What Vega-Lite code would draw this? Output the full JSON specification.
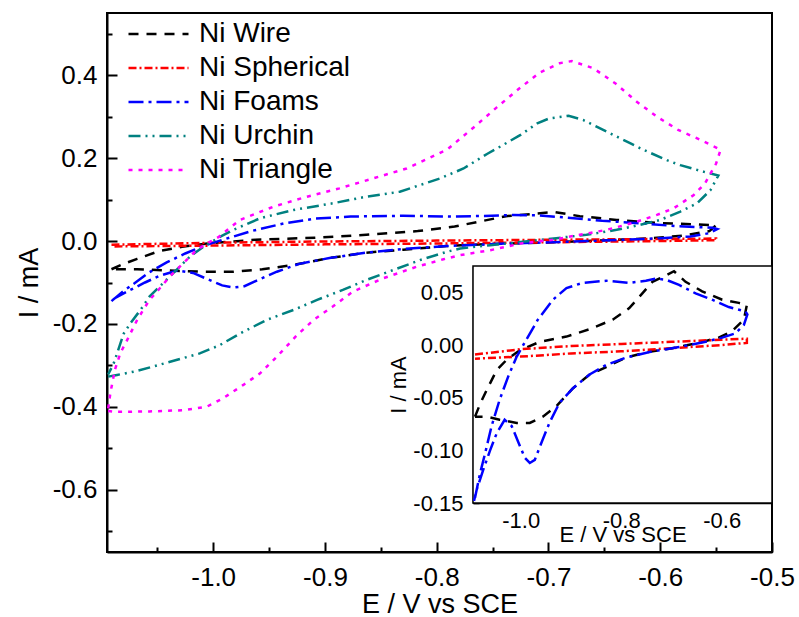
{
  "$schema": "https://vega.github.io/schema/vega-lite/v6.json",
  "width": 665,
  "height": 539,
  "autosize": "none",
  "padding": {"left": 107, "top": 13, "right": 27, "bottom": 65},
  "background": "white",
  "config": {
    "font": "Liberation Sans",
    "view": {"stroke": "black", "strokeWidth": 2},
    "axis": {"grid": false, "domainColor": "black", "tickColor": "black", "labelColor": "black", "titleColor": "black", "labelFont": "Liberation Sans", "titleFont": "Liberation Sans", "titleFontWeight": "normal", "labelFlush": false, "labelOverlap": false, "zindex": 1}
  },
  "datasets": {
    "cv": [
      {"sample": "Ni Wire", "k": 0, "E": -1.091, "I": -0.068},
      {"sample": "Ni Wire", "k": 1, "E": -1.080, "I": -0.055},
      {"sample": "Ni Wire", "k": 2, "E": -1.068, "I": -0.043},
      {"sample": "Ni Wire", "k": 3, "E": -1.048, "I": -0.024},
      {"sample": "Ni Wire", "k": 4, "E": -1.028, "I": -0.014},
      {"sample": "Ni Wire", "k": 5, "E": -1.002, "I": -0.005},
      {"sample": "Ni Wire", "k": 6, "E": -0.962, "I": 0.003},
      {"sample": "Ni Wire", "k": 7, "E": -0.909, "I": 0.008},
      {"sample": "Ni Wire", "k": 8, "E": -0.863, "I": 0.015},
      {"sample": "Ni Wire", "k": 9, "E": -0.817, "I": 0.024},
      {"sample": "Ni Wire", "k": 10, "E": -0.784, "I": 0.035},
      {"sample": "Ni Wire", "k": 11, "E": -0.758, "I": 0.049},
      {"sample": "Ni Wire", "k": 12, "E": -0.738, "I": 0.060},
      {"sample": "Ni Wire", "k": 13, "E": -0.711, "I": 0.066},
      {"sample": "Ni Wire", "k": 14, "E": -0.695, "I": 0.070},
      {"sample": "Ni Wire", "k": 15, "E": -0.672, "I": 0.060},
      {"sample": "Ni Wire", "k": 16, "E": -0.639, "I": 0.051},
      {"sample": "Ni Wire", "k": 17, "E": -0.599, "I": 0.043},
      {"sample": "Ni Wire", "k": 18, "E": -0.566, "I": 0.040},
      {"sample": "Ni Wire", "k": 19, "E": -0.550, "I": 0.038},
      {"sample": "Ni Wire", "k": 20, "E": -0.556, "I": 0.024},
      {"sample": "Ni Wire", "k": 21, "E": -0.580, "I": 0.013},
      {"sample": "Ni Wire", "k": 22, "E": -0.606, "I": 0.007},
      {"sample": "Ni Wire", "k": 23, "E": -0.646, "I": 0.002},
      {"sample": "Ni Wire", "k": 24, "E": -0.698, "I": -0.003},
      {"sample": "Ni Wire", "k": 25, "E": -0.751, "I": -0.007},
      {"sample": "Ni Wire", "k": 26, "E": -0.791, "I": -0.012},
      {"sample": "Ni Wire", "k": 27, "E": -0.830, "I": -0.021},
      {"sample": "Ni Wire", "k": 28, "E": -0.863, "I": -0.028},
      {"sample": "Ni Wire", "k": 29, "E": -0.896, "I": -0.041},
      {"sample": "Ni Wire", "k": 30, "E": -0.929, "I": -0.058},
      {"sample": "Ni Wire", "k": 31, "E": -0.956, "I": -0.068},
      {"sample": "Ni Wire", "k": 32, "E": -0.982, "I": -0.074},
      {"sample": "Ni Wire", "k": 33, "E": -1.008, "I": -0.074},
      {"sample": "Ni Wire", "k": 34, "E": -1.042, "I": -0.071},
      {"sample": "Ni Wire", "k": 35, "E": -1.068, "I": -0.068},
      {"sample": "Ni Wire", "k": 36, "E": -1.091, "I": -0.068},

      {"sample": "Ni Spherical", "k": 0, "E": -1.091, "I": -0.009},
      {"sample": "Ni Spherical", "k": 1, "E": -1.0, "I": -0.004},
      {"sample": "Ni Spherical", "k": 2, "E": -0.9, "I": -0.001},
      {"sample": "Ni Spherical", "k": 3, "E": -0.8, "I": 0.001},
      {"sample": "Ni Spherical", "k": 4, "E": -0.7, "I": 0.003},
      {"sample": "Ni Spherical", "k": 5, "E": -0.6, "I": 0.005},
      {"sample": "Ni Spherical", "k": 6, "E": -0.55, "I": 0.006},
      {"sample": "Ni Spherical", "k": 7, "E": -0.55, "I": 0.002},
      {"sample": "Ni Spherical", "k": 8, "E": -0.6, "I": 0.000},
      {"sample": "Ni Spherical", "k": 9, "E": -0.7, "I": -0.003},
      {"sample": "Ni Spherical", "k": 10, "E": -0.8, "I": -0.006},
      {"sample": "Ni Spherical", "k": 11, "E": -0.9, "I": -0.008},
      {"sample": "Ni Spherical", "k": 12, "E": -1.0, "I": -0.011},
      {"sample": "Ni Spherical", "k": 13, "E": -1.091, "I": -0.013},

      {"sample": "Ni Foams", "k": 0, "E": -1.091, "I": -0.145},
      {"sample": "Ni Foams", "k": 1, "E": -1.081, "I": -0.122},
      {"sample": "Ni Foams", "k": 2, "E": -1.071, "I": -0.103},
      {"sample": "Ni Foams", "k": 3, "E": -1.058, "I": -0.077},
      {"sample": "Ni Foams", "k": 4, "E": -1.042, "I": -0.052},
      {"sample": "Ni Foams", "k": 5, "E": -1.025, "I": -0.030},
      {"sample": "Ni Foams", "k": 6, "E": -1.008, "I": -0.011},
      {"sample": "Ni Foams", "k": 7, "E": -0.989, "I": 0.005},
      {"sample": "Ni Foams", "k": 8, "E": -0.966, "I": 0.024},
      {"sample": "Ni Foams", "k": 9, "E": -0.936, "I": 0.043},
      {"sample": "Ni Foams", "k": 10, "E": -0.909, "I": 0.054},
      {"sample": "Ni Foams", "k": 11, "E": -0.877, "I": 0.059},
      {"sample": "Ni Foams", "k": 12, "E": -0.830, "I": 0.061},
      {"sample": "Ni Foams", "k": 13, "E": -0.784, "I": 0.059},
      {"sample": "Ni Foams", "k": 14, "E": -0.751, "I": 0.061},
      {"sample": "Ni Foams", "k": 15, "E": -0.731, "I": 0.063},
      {"sample": "Ni Foams", "k": 16, "E": -0.711, "I": 0.062},
      {"sample": "Ni Foams", "k": 17, "E": -0.685, "I": 0.057},
      {"sample": "Ni Foams", "k": 18, "E": -0.652, "I": 0.049},
      {"sample": "Ni Foams", "k": 19, "E": -0.619, "I": 0.043},
      {"sample": "Ni Foams", "k": 20, "E": -0.586, "I": 0.036},
      {"sample": "Ni Foams", "k": 21, "E": -0.553, "I": 0.032},
      {"sample": "Ni Foams", "k": 22, "E": -0.549, "I": 0.029},
      {"sample": "Ni Foams", "k": 23, "E": -0.556, "I": 0.019},
      {"sample": "Ni Foams", "k": 24, "E": -0.573, "I": 0.011},
      {"sample": "Ni Foams", "k": 25, "E": -0.599, "I": 0.007},
      {"sample": "Ni Foams", "k": 26, "E": -0.632, "I": 0.003},
      {"sample": "Ni Foams", "k": 27, "E": -0.685, "I": -0.002},
      {"sample": "Ni Foams", "k": 28, "E": -0.738, "I": -0.006},
      {"sample": "Ni Foams", "k": 29, "E": -0.791, "I": -0.012},
      {"sample": "Ni Foams", "k": 30, "E": -0.830, "I": -0.019},
      {"sample": "Ni Foams", "k": 31, "E": -0.863, "I": -0.028},
      {"sample": "Ni Foams", "k": 32, "E": -0.896, "I": -0.041},
      {"sample": "Ni Foams", "k": 33, "E": -0.923, "I": -0.055},
      {"sample": "Ni Foams", "k": 34, "E": -0.943, "I": -0.074},
      {"sample": "Ni Foams", "k": 35, "E": -0.959, "I": -0.093},
      {"sample": "Ni Foams", "k": 36, "E": -0.972, "I": -0.109},
      {"sample": "Ni Foams", "k": 37, "E": -0.982, "I": -0.112},
      {"sample": "Ni Foams", "k": 38, "E": -0.992, "I": -0.107},
      {"sample": "Ni Foams", "k": 39, "E": -1.005, "I": -0.092},
      {"sample": "Ni Foams", "k": 40, "E": -1.018, "I": -0.077},
      {"sample": "Ni Foams", "k": 41, "E": -1.032, "I": -0.071},
      {"sample": "Ni Foams", "k": 42, "E": -1.048, "I": -0.084},
      {"sample": "Ni Foams", "k": 43, "E": -1.061, "I": -0.100},
      {"sample": "Ni Foams", "k": 44, "E": -1.075, "I": -0.119},
      {"sample": "Ni Foams", "k": 45, "E": -1.088, "I": -0.138},
      {"sample": "Ni Foams", "k": 46, "E": -1.093, "I": -0.148},

      {"sample": "Ni Urchin", "k": 0, "E": -1.094, "I": -0.327},
      {"sample": "Ni Urchin", "k": 1, "E": -1.086, "I": -0.323},
      {"sample": "Ni Urchin", "k": 2, "E": -1.071, "I": -0.315},
      {"sample": "Ni Urchin", "k": 3, "E": -1.054, "I": -0.303},
      {"sample": "Ni Urchin", "k": 4, "E": -1.033, "I": -0.287},
      {"sample": "Ni Urchin", "k": 5, "E": -1.012, "I": -0.271},
      {"sample": "Ni Urchin", "k": 6, "E": -0.994, "I": -0.251},
      {"sample": "Ni Urchin", "k": 7, "E": -0.976, "I": -0.223},
      {"sample": "Ni Urchin", "k": 8, "E": -0.952, "I": -0.190},
      {"sample": "Ni Urchin", "k": 9, "E": -0.928, "I": -0.166},
      {"sample": "Ni Urchin", "k": 10, "E": -0.907, "I": -0.142},
      {"sample": "Ni Urchin", "k": 11, "E": -0.884, "I": -0.118},
      {"sample": "Ni Urchin", "k": 12, "E": -0.863, "I": -0.094},
      {"sample": "Ni Urchin", "k": 13, "E": -0.839, "I": -0.070},
      {"sample": "Ni Urchin", "k": 14, "E": -0.815, "I": -0.046},
      {"sample": "Ni Urchin", "k": 15, "E": -0.791, "I": -0.026},
      {"sample": "Ni Urchin", "k": 16, "E": -0.779, "I": -0.018},
      {"sample": "Ni Urchin", "k": 17, "E": -0.752, "I": -0.010},
      {"sample": "Ni Urchin", "k": 18, "E": -0.723, "I": -0.002},
      {"sample": "Ni Urchin", "k": 19, "E": -0.693, "I": 0.007},
      {"sample": "Ni Urchin", "k": 20, "E": -0.666, "I": 0.015},
      {"sample": "Ni Urchin", "k": 21, "E": -0.639, "I": 0.027},
      {"sample": "Ni Urchin", "k": 22, "E": -0.618, "I": 0.039},
      {"sample": "Ni Urchin", "k": 23, "E": -0.600, "I": 0.051},
      {"sample": "Ni Urchin", "k": 24, "E": -0.582, "I": 0.071},
      {"sample": "Ni Urchin", "k": 25, "E": -0.567, "I": 0.091},
      {"sample": "Ni Urchin", "k": 26, "E": -0.555, "I": 0.123},
      {"sample": "Ni Urchin", "k": 27, "E": -0.548, "I": 0.158},
      {"sample": "Ni Urchin", "k": 28, "E": -0.561, "I": 0.167},
      {"sample": "Ni Urchin", "k": 29, "E": -0.582, "I": 0.183},
      {"sample": "Ni Urchin", "k": 30, "E": -0.594, "I": 0.195},
      {"sample": "Ni Urchin", "k": 31, "E": -0.615, "I": 0.220},
      {"sample": "Ni Urchin", "k": 32, "E": -0.627, "I": 0.236},
      {"sample": "Ni Urchin", "k": 33, "E": -0.648, "I": 0.264},
      {"sample": "Ni Urchin", "k": 34, "E": -0.669, "I": 0.292},
      {"sample": "Ni Urchin", "k": 35, "E": -0.682, "I": 0.302},
      {"sample": "Ni Urchin", "k": 36, "E": -0.699, "I": 0.296},
      {"sample": "Ni Urchin", "k": 37, "E": -0.710, "I": 0.284},
      {"sample": "Ni Urchin", "k": 38, "E": -0.725, "I": 0.256},
      {"sample": "Ni Urchin", "k": 39, "E": -0.743, "I": 0.228},
      {"sample": "Ni Urchin", "k": 40, "E": -0.755, "I": 0.210},
      {"sample": "Ni Urchin", "k": 41, "E": -0.776, "I": 0.175},
      {"sample": "Ni Urchin", "k": 42, "E": -0.797, "I": 0.151},
      {"sample": "Ni Urchin", "k": 43, "E": -0.833, "I": 0.119},
      {"sample": "Ni Urchin", "k": 44, "E": -0.863, "I": 0.107},
      {"sample": "Ni Urchin", "k": 45, "E": -0.893, "I": 0.091},
      {"sample": "Ni Urchin", "k": 46, "E": -0.928, "I": 0.075},
      {"sample": "Ni Urchin", "k": 47, "E": -0.958, "I": 0.055},
      {"sample": "Ni Urchin", "k": 48, "E": -0.982, "I": 0.027},
      {"sample": "Ni Urchin", "k": 49, "E": -0.994, "I": 0.010},
      {"sample": "Ni Urchin", "k": 50, "E": -1.009, "I": -0.014},
      {"sample": "Ni Urchin", "k": 51, "E": -1.021, "I": -0.038},
      {"sample": "Ni Urchin", "k": 52, "E": -1.033, "I": -0.070},
      {"sample": "Ni Urchin", "k": 53, "E": -1.045, "I": -0.102},
      {"sample": "Ni Urchin", "k": 54, "E": -1.057, "I": -0.134},
      {"sample": "Ni Urchin", "k": 55, "E": -1.065, "I": -0.166},
      {"sample": "Ni Urchin", "k": 56, "E": -1.074, "I": -0.198},
      {"sample": "Ni Urchin", "k": 57, "E": -1.080, "I": -0.223},
      {"sample": "Ni Urchin", "k": 58, "E": -1.083, "I": -0.247},
      {"sample": "Ni Urchin", "k": 59, "E": -1.089, "I": -0.295},
      {"sample": "Ni Urchin", "k": 60, "E": -1.094, "I": -0.322},

      {"sample": "Ni Triangle", "k": 0, "E": -1.094, "I": -0.410},
      {"sample": "Ni Triangle", "k": 1, "E": -1.086, "I": -0.412},
      {"sample": "Ni Triangle", "k": 2, "E": -1.057, "I": -0.411},
      {"sample": "Ni Triangle", "k": 3, "E": -1.027, "I": -0.408},
      {"sample": "Ni Triangle", "k": 4, "E": -1.006, "I": -0.400},
      {"sample": "Ni Triangle", "k": 5, "E": -0.991, "I": -0.379},
      {"sample": "Ni Triangle", "k": 6, "E": -0.973, "I": -0.347},
      {"sample": "Ni Triangle", "k": 7, "E": -0.958, "I": -0.319},
      {"sample": "Ni Triangle", "k": 8, "E": -0.943, "I": -0.279},
      {"sample": "Ni Triangle", "k": 9, "E": -0.925, "I": -0.227},
      {"sample": "Ni Triangle", "k": 10, "E": -0.910, "I": -0.190},
      {"sample": "Ni Triangle", "k": 11, "E": -0.893, "I": -0.158},
      {"sample": "Ni Triangle", "k": 12, "E": -0.875, "I": -0.122},
      {"sample": "Ni Triangle", "k": 13, "E": -0.848, "I": -0.090},
      {"sample": "Ni Triangle", "k": 14, "E": -0.818, "I": -0.062},
      {"sample": "Ni Triangle", "k": 15, "E": -0.794, "I": -0.044},
      {"sample": "Ni Triangle", "k": 16, "E": -0.779, "I": -0.034},
      {"sample": "Ni Triangle", "k": 17, "E": -0.752, "I": -0.022},
      {"sample": "Ni Triangle", "k": 18, "E": -0.723, "I": -0.005},
      {"sample": "Ni Triangle", "k": 19, "E": -0.696, "I": 0.003},
      {"sample": "Ni Triangle", "k": 20, "E": -0.672, "I": 0.015},
      {"sample": "Ni Triangle", "k": 21, "E": -0.648, "I": 0.027},
      {"sample": "Ni Triangle", "k": 22, "E": -0.624, "I": 0.044},
      {"sample": "Ni Triangle", "k": 23, "E": -0.603, "I": 0.063},
      {"sample": "Ni Triangle", "k": 24, "E": -0.588, "I": 0.079},
      {"sample": "Ni Triangle", "k": 25, "E": -0.570, "I": 0.111},
      {"sample": "Ni Triangle", "k": 26, "E": -0.560, "I": 0.139},
      {"sample": "Ni Triangle", "k": 27, "E": -0.550, "I": 0.187},
      {"sample": "Ni Triangle", "k": 28, "E": -0.546, "I": 0.220},
      {"sample": "Ni Triangle", "k": 29, "E": -0.564, "I": 0.244},
      {"sample": "Ni Triangle", "k": 30, "E": -0.584, "I": 0.268},
      {"sample": "Ni Triangle", "k": 31, "E": -0.603, "I": 0.300},
      {"sample": "Ni Triangle", "k": 32, "E": -0.621, "I": 0.336},
      {"sample": "Ni Triangle", "k": 33, "E": -0.640, "I": 0.380},
      {"sample": "Ni Triangle", "k": 34, "E": -0.660, "I": 0.417},
      {"sample": "Ni Triangle", "k": 35, "E": -0.679, "I": 0.434},
      {"sample": "Ni Triangle", "k": 36, "E": -0.690, "I": 0.429},
      {"sample": "Ni Triangle", "k": 37, "E": -0.708, "I": 0.406},
      {"sample": "Ni Triangle", "k": 38, "E": -0.727, "I": 0.366},
      {"sample": "Ni Triangle", "k": 39, "E": -0.746, "I": 0.323},
      {"sample": "Ni Triangle", "k": 40, "E": -0.766, "I": 0.276},
      {"sample": "Ni Triangle", "k": 41, "E": -0.791, "I": 0.220},
      {"sample": "Ni Triangle", "k": 42, "E": -0.827, "I": 0.175},
      {"sample": "Ni Triangle", "k": 43, "E": -0.857, "I": 0.151},
      {"sample": "Ni Triangle", "k": 44, "E": -0.887, "I": 0.127},
      {"sample": "Ni Triangle", "k": 45, "E": -0.916, "I": 0.107},
      {"sample": "Ni Triangle", "k": 46, "E": -0.946, "I": 0.083},
      {"sample": "Ni Triangle", "k": 47, "E": -0.976, "I": 0.051},
      {"sample": "Ni Triangle", "k": 48, "E": -0.995, "I": 0.010},
      {"sample": "Ni Triangle", "k": 49, "E": -1.003, "I": -0.002},
      {"sample": "Ni Triangle", "k": 50, "E": -1.015, "I": -0.022},
      {"sample": "Ni Triangle", "k": 51, "E": -1.027, "I": -0.054},
      {"sample": "Ni Triangle", "k": 52, "E": -1.039, "I": -0.086},
      {"sample": "Ni Triangle", "k": 53, "E": -1.049, "I": -0.118},
      {"sample": "Ni Triangle", "k": 54, "E": -1.057, "I": -0.142},
      {"sample": "Ni Triangle", "k": 55, "E": -1.068, "I": -0.190},
      {"sample": "Ni Triangle", "k": 56, "E": -1.077, "I": -0.239},
      {"sample": "Ni Triangle", "k": 57, "E": -1.083, "I": -0.270},
      {"sample": "Ni Triangle", "k": 58, "E": -1.088, "I": -0.311},
      {"sample": "Ni Triangle", "k": 59, "E": -1.092, "I": -0.367},
      {"sample": "Ni Triangle", "k": 60, "E": -1.094, "I": -0.405}
    ]
  },
  "layer": [
    {
      "data": {"name": "cv"},
      "mark": {"type": "line", "strokeWidth": 2.5},
      "encoding": {
        "x": {"field": "E", "type": "quantitative",
          "scale": {"domain": [-1.095, -0.5], "nice": false, "zero": false},
          "axis": {"orient": "bottom", "title": "E / V vs SCE", "titleFontSize": 27, "titlePadding": -4,
            "values": [-1.05, -1.0, -0.95, -0.9, -0.85, -0.8, -0.75, -0.7, -0.65, -0.6, -0.55, -0.5],
            "labelExpr": "abs(round(datum.value*20))%2==0 ? replace(format(datum.value,'.1f'),'\u2212','-') : ''",
            "tickSize": {"condition": {"test": "abs(round(datum.value*20))%2==0", "value": -10}, "value": -5},
            "tickWidth": 2, "domainWidth": 2, "labelFontSize": 26, "labelPadding": 22}},
        "y": {"field": "I", "type": "quantitative",
          "scale": {"domain": [-0.75, 0.55], "nice": false, "zero": false},
          "axis": {"orient": "left", "title": "I / mA", "titleFontSize": 27, "titlePadding": 9,
            "values": [-0.7, -0.6, -0.5, -0.4, -0.3, -0.2, -0.1, 0, 0.1, 0.2, 0.3, 0.4, 0.5],
            "labelExpr": "abs(round(datum.value*10))%2==0 ? replace(format(datum.value,'.1f'),'\u2212','-') : ''",
            "tickSize": {"condition": {"test": "abs(round(datum.value*10))%2==0", "value": -10}, "value": -5},
            "tickWidth": 2, "domainWidth": 2, "labelFontSize": 26, "labelPadding": 20}},
        "color": {"field": "sample", "type": "nominal",
          "scale": {"domain": ["Ni Wire", "Ni Spherical", "Ni Foams", "Ni Urchin", "Ni Triangle"],
                    "range": ["#000000", "#ff0000", "#0000ff", "#008080", "#ff00ff"]},
          "legend": {"title": null, "orient": "none", "legendX": 20, "legendY": 4, "labelFontSize": 28, "labelFont": "Liberation Sans", "labelColor": "black", "symbolType": "stroke", "symbolSize": 3600, "symbolStrokeWidth": 2.5, "labelOffset": 9, "clipHeight": 34, "rowPadding": 0, "padding": 0}},
        "strokeDash": {"field": "sample", "type": "nominal",
          "scale": {"domain": ["Ni Wire", "Ni Spherical", "Ni Foams", "Ni Urchin", "Ni Triangle"],
                    "range": [[10, 8], [8, 3, 2, 3], [15, 5, 3, 5], [12, 5, 2, 5, 2, 5], [4, 6]]},
          "legend": {"title": null, "orient": "none", "legendX": 20, "legendY": 4, "labelFontSize": 28, "labelFont": "Liberation Sans", "labelColor": "black", "symbolType": "stroke", "symbolSize": 3600, "symbolStrokeWidth": 2.5, "labelOffset": 9, "clipHeight": 34, "rowPadding": 0, "padding": 0}},
        "order": {"field": "k", "type": "quantitative"}
      }
    },
    {
      "data": {"values": [{"frame": "inset"}]},
      "mark": {"type": "rect", "fill": "white", "stroke": "black", "strokeWidth": 1.5},
      "encoding": {
        "x": {"datum": -1.095, "type": "quantitative", "axis": null,
          "scale": {"domain": [-1.095, -0.5], "nice": false, "zero": false, "range": [366, 665]}},
        "x2": {"datum": -0.5},
        "y": {"datum": -0.15, "type": "quantitative", "axis": null,
          "scale": {"domain": [-0.15, 0.075], "nice": false, "zero": false, "range": [490, 253]}},
        "y2": {"datum": 0.075}
      }
    },
    {
      "data": {"name": "cv"},
      "transform": [{"filter": {"field": "sample", "oneOf": ["Ni Wire", "Ni Spherical", "Ni Foams"]}}],
      "mark": {"type": "line", "strokeWidth": 2.5},
      "encoding": {
        "x": {"field": "E", "type": "quantitative",
          "scale": {"domain": [-1.095, -0.5], "nice": false, "zero": false, "range": [366, 665]},
          "axis": {"orient": "bottom", "offset": -49, "title": "E / V vs SCE", "titleFontSize": 22, "titlePadding": -10,
            "values": [-1.0, -0.9, -0.8, -0.7, -0.6],
            "labelExpr": "abs(round(datum.value*10))%2==0 ? replace(format(datum.value,'.1f'),'\u2212','-') : ''",
            "tickSize": {"condition": {"test": "abs(round(datum.value*10))%2==0", "value": -6}, "value": -3},
            "tickWidth": 1.5, "domainWidth": 1.5, "labelFontSize": 22, "labelPadding": 13}},
        "y": {"field": "I", "type": "quantitative",
          "scale": {"domain": [-0.15, 0.075], "nice": false, "zero": false, "range": [490, 253]},
          "axis": {"orient": "left", "offset": -366, "title": "I / mA", "titleFontSize": 22, "titlePadding": 2,
            "values": [-0.15, -0.1, -0.05, 0, 0.05],
            "labelExpr": "replace(format(datum.value,'.2f'),'\u2212','-')",
            "tickSize": -6, "tickWidth": 1.5, "domainWidth": 1.5, "labelFontSize": 22, "labelPadding": 16}},
        "color": {"field": "sample", "type": "nominal",
          "scale": {"domain": ["Ni Wire", "Ni Spherical", "Ni Foams", "Ni Urchin", "Ni Triangle"],
                    "range": ["#000000", "#ff0000", "#0000ff", "#008080", "#ff00ff"]}},
        "strokeDash": {"field": "sample", "type": "nominal",
          "scale": {"domain": ["Ni Wire", "Ni Spherical", "Ni Foams", "Ni Urchin", "Ni Triangle"],
                    "range": [[10, 8], [8, 3, 2, 3], [15, 5, 3, 5], [12, 5, 2, 5, 2, 5], [4, 6]]}},
        "order": {"field": "k", "type": "quantitative"}
      }
    }
  ],
  "resolve": {"scale": {"x": "independent", "y": "independent"}, "axis": {"x": "independent", "y": "independent"}}
}
